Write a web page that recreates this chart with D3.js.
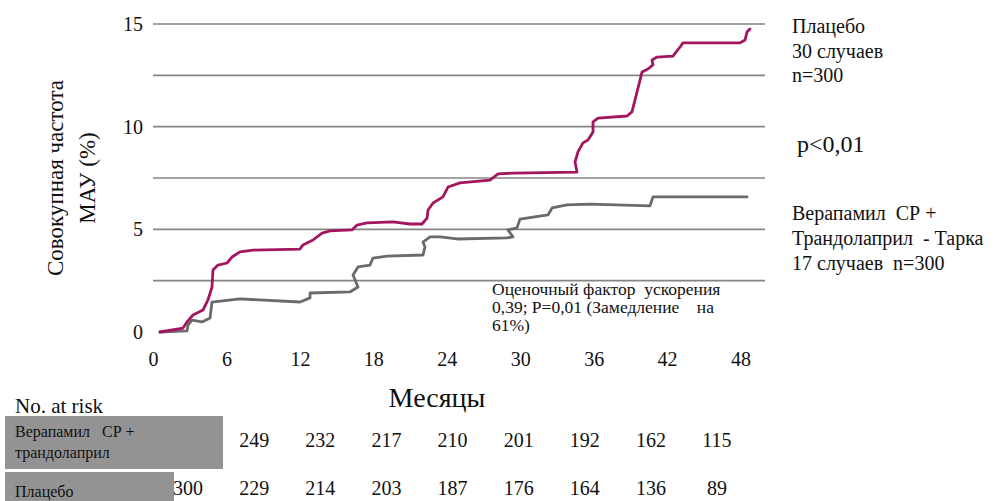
<!DOCTYPE html>
<html>
<head>
<meta charset="utf-8">
<script src="https://cdn.jsdelivr.net/npm/d3@7"></script>
<style>
  html, body { margin: 0; padding: 0; background: #fff; }
  svg { display: block; }
</style>
</head>
<body>
<script>
// ---- data ----
const xTickValues = [0, 6, 12, 18, 24, 30, 36, 42, 48];
const yTickValues = [0, 5, 10, 15];
const gridValues = [2.5, 5, 7.5, 10, 12.5, 15];

// Placebo cumulative incidence (month, %)
const placeboMonths = [0.57, 2.45, 2.78, 3.27, 4.08, 4.49, 4.82, 4.90, 5.31, 6.05, 6.45, 7.11, 8.17, 12.01, 12.25, 13.07, 13.81, 14.46, 16.26, 16.67, 17.48, 19.61, 21.00, 21.98, 22.39, 22.47, 22.88, 23.69, 24.10, 25.08, 27.53, 28.19, 29.41, 34.64, 34.48, 34.72, 35.13, 35.54, 35.95, 35.95, 36.36, 38.73, 39.13, 39.38, 39.79, 39.95, 40.44, 40.85, 40.77, 41.18, 42.48, 43.06, 43.30, 47.96, 48.37, 48.53, 48.77];
const placeboValues = [0, 0.19, 0.49, 0.83, 1.07, 1.56, 2.19, 3.02, 3.26, 3.36, 3.65, 3.90, 3.99, 4.04, 4.24, 4.48, 4.82, 4.92, 4.97, 5.21, 5.31, 5.36, 5.26, 5.26, 5.55, 5.94, 6.28, 6.58, 7.06, 7.26, 7.40, 7.70, 7.74, 7.79, 8.28, 8.77, 9.21, 9.35, 9.74, 10.23, 10.42, 10.52, 10.72, 11.30, 12.27, 12.66, 12.81, 13.01, 13.25, 13.39, 13.44, 13.88, 14.08, 14.08, 14.22, 14.61, 14.76];

// Verapamil SR + trandolapril cumulative incidence (month, %)
const tarkaMonths = [0.57, 2.78, 2.86, 3.19, 4.00, 4.66, 4.82, 7.11, 12.01, 12.83, 12.83, 16.09, 16.75, 16.34, 16.75, 17.73, 17.97, 19.12, 22.06, 22.22, 22.06, 22.63, 23.45, 24.84, 28.92, 29.41, 29.00, 29.74, 29.98, 31.05, 32.27, 32.60, 33.82, 35.70, 40.60, 40.85, 42.48, 48.53];
const tarkaValues = [0, 0.05, 0.34, 0.58, 0.49, 0.68, 1.46, 1.61, 1.46, 1.66, 1.90, 1.95, 2.19, 2.78, 3.17, 3.26, 3.60, 3.70, 3.75, 4.14, 4.38, 4.63, 4.63, 4.53, 4.58, 4.63, 4.97, 5.07, 5.50, 5.60, 5.70, 6.04, 6.19, 6.23, 6.14, 6.58, 6.58, 6.58];

// Number at risk
const riskMonths = [0, 6, 12, 18, 24, 30, 36, 42, 48];
const riskTarka = [null, 249, 232, 217, 210, 201, 192, 162, 115];
const riskPlacebo = [300, 229, 214, 203, 187, 176, 164, 136, 89];

const colPlacebo = "#a3165f";
const colTarka = "#6a6a6a";
const FONT = "Liberation Serif";
const NB = "\u00A0";

// ---- drawing ----
const W = 1001, H = 501;
const svg = d3.select("body").append("svg").attr("width", W).attr("height", H);
svg.append("rect").attr("width", W).attr("height", H).attr("fill", "#fff");

function txt(xp, yp, size, s) {
  return svg.append("text").attr("x", xp).attr("y", yp)
    .attr("font-family", FONT).attr("font-size", size).attr("fill", "#111").text(s);
}

const x = d3.scaleLinear().domain([0, 50]).range([153, 765]);
const y = d3.scaleLinear().domain([0, 15]).range([332, 24]);

// gridlines
svg.append("g").selectAll("line").data(gridValues).join("line")
  .attr("x1", x(0)).attr("x2", x(50))
  .attr("y1", d => y(d)).attr("y2", d => y(d))
  .attr("stroke", "#858585").attr("stroke-width", 1.7);

// y axis labels
const yAxis = d3.axisLeft(y).tickValues(yTickValues).tickSize(0).tickPadding(0).tickFormat(d3.format("d"));
const gy = svg.append("g").attr("transform", `translate(${143},0)`).call(yAxis);
gy.select(".domain").remove();
gy.attr("font-family", FONT).attr("font-size", 20);
gy.selectAll("text").attr("font-family", FONT).attr("font-size", 20).attr("fill", "#111");

// x axis labels
const xAxis = d3.axisBottom(x).tickValues(xTickValues).tickSize(0).tickPadding(0).tickFormat(d3.format("d"));
const gx = svg.append("g").attr("transform", `translate(0,${352})`).call(xAxis);
gx.select(".domain").remove();
gx.attr("font-family", FONT).attr("font-size", 20);
gx.selectAll("text").attr("font-family", FONT).attr("font-size", 20).attr("fill", "#111");

// curves
const line = d3.line().x(d => x(d[0])).y(d => y(d[1])).curve(d3.curveLinear);
const placebo = placeboMonths.map((m, i) => [m, placeboValues[i]]);
const tarka = tarkaMonths.map((m, i) => [m, tarkaValues[i]]);
svg.append("path").datum(tarka).attr("d", line)
  .attr("fill", "none").attr("stroke", colTarka).attr("stroke-width", 2.8)
  .attr("stroke-linejoin", "round").attr("stroke-linecap", "round");
svg.append("path").datum(placebo).attr("d", line)
  .attr("fill", "none").attr("stroke", colPlacebo).attr("stroke-width", 2.8)
  .attr("stroke-linejoin", "round").attr("stroke-linecap", "round");

// y title (two rotated lines)
txt(0, 0, 23, "Совокупная частота").attr("transform", "translate(63,178) rotate(-90)").attr("text-anchor", "middle");
txt(0, 0, 23, "МАУ (%)").attr("transform", "translate(95,178) rotate(-90)").attr("text-anchor", "middle");

// x title
txt(437, 407, 28, "Месяцы").attr("text-anchor", "middle");

// annotation
txt(492, 295, 17.5, "Оценочный фактор" + NB + NB + "ускорения");
txt(492, 313, 17.5, "0,39; P=0,01 (Замедление" + NB + NB + NB + NB + "на");
txt(492, 331, 17.5, "61%)");

// right legend
txt(792, 33, 20, "Плацебо");
txt(792, 58, 20, "30 случаев");
txt(792, 82, 20, "n=300");
txt(797, 152, 24, "p<0,01");
txt(792, 220, 20, "Верапамил" + NB + NB + "СР +");
txt(792, 245, 20, "Трандолаприл" + NB + NB + "- Тарка");
txt(792, 270, 20, "17 случаев" + NB + NB + "n=300");

// No. at risk table
txt(15, 413, 21, "No. at risk");
svg.append("rect").attr("x", 5).attr("y", 416).attr("width", 218).attr("height", 53).attr("fill", "#939393");
svg.append("rect").attr("x", 5).attr("y", 472).attr("width", 169).attr("height", 30).attr("fill", "#939393");
txt(15, 437, 16, "Верапамил" + NB + NB + NB + "СР +");
txt(15, 458, 16, "трандолаприл");
txt(15, 497, 16, "Плацебо");

const tx = d3.scaleLinear().domain([0, 48]).range([188, 717]);
svg.append("g").selectAll("text").data(riskMonths.map((m, i) => [m, riskTarka[i]]).filter(d => d[1] !== null)).join("text")
  .attr("x", d => tx(d[0])).attr("y", 447).attr("text-anchor", "middle")
  .attr("font-family", FONT).attr("font-size", 20).attr("fill", "#111").text(d => d[1]);
svg.append("g").selectAll("text").data(riskMonths.map((m, i) => [m, riskPlacebo[i]])).join("text")
  .attr("x", d => tx(d[0])).attr("y", 495).attr("text-anchor", "middle")
  .attr("font-family", FONT).attr("font-size", 20).attr("fill", "#111").text(d => d[1]);
</script>
</body>
</html>
